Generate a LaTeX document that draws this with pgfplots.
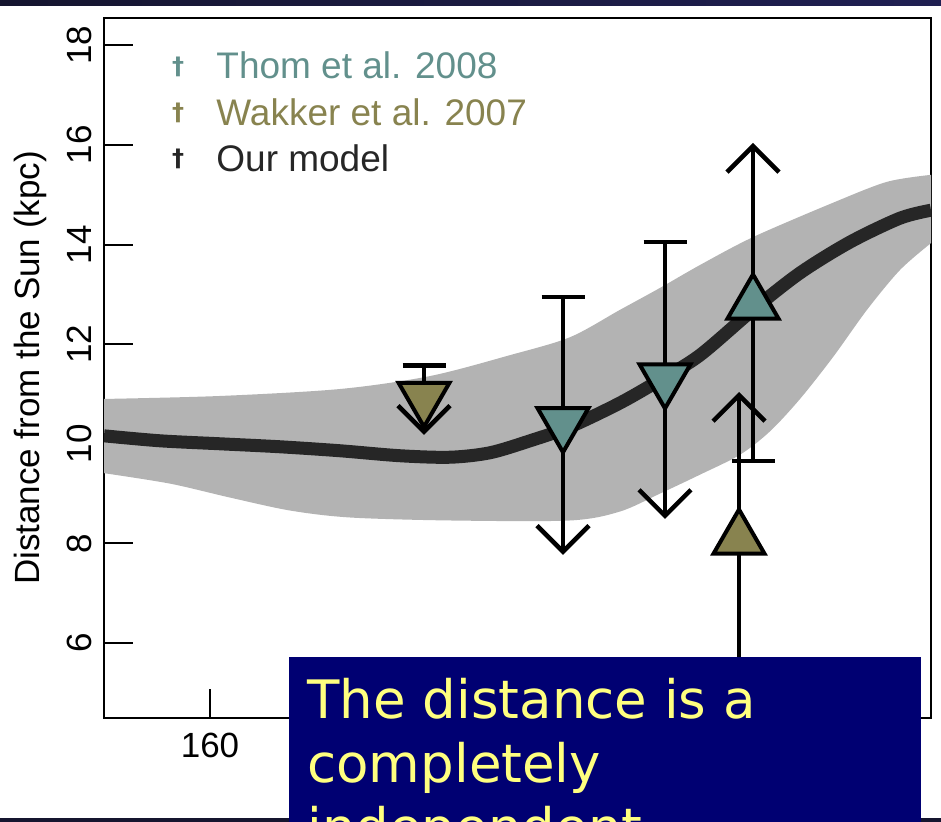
\documentclass[border=0pt]{standalone}
\usepackage{pgfplots}
\pgfplotsset{compat=1.18}
\usepgfplotslibrary{fillbetween}
\usetikzlibrary{arrows.meta}
\usepackage{fontspec}
\setmainfont{Liberation Sans}
\newfontfamily\dejavu{DejaVu Sans}

\definecolor{thomc}{HTML}{62908C}
\definecolor{wakc}{HTML}{88834F}
\definecolor{modelc}{HTML}{262626}
\definecolor{bandc}{HTML}{B3B3B3}
\definecolor{boxblue}{HTML}{000072}
\definecolor{boxyellow}{HTML}{FFFF7F}
\definecolor{slideL}{HTML}{15152F}
\definecolor{slideR}{HTML}{1F1F52}

% R-style filled triangles (pch 24 / 25), centred on the centroid
\pgfdeclareplotmark{triup}{%
  \pgfpathmoveto{\pgfqpointpolar{90}{14.7pt}}%
  \pgfpathlineto{\pgfqpointpolar{210}{14.7pt}}%
  \pgfpathlineto{\pgfqpointpolar{330}{14.7pt}}%
  \pgfpathclose\pgfusepathqfillstroke}
\pgfdeclareplotmark{tridown}{%
  \pgfpathmoveto{\pgfqpointpolar{270}{14.7pt}}%
  \pgfpathlineto{\pgfqpointpolar{30}{14.7pt}}%
  \pgfpathlineto{\pgfqpointpolar{150}{14.7pt}}%
  \pgfpathclose\pgfusepathqfillstroke}

\tikzset{
  ebar/.style={black, line width=2.25pt,
    arrows={Bar[width=21.5pt]-Straight Barb[length=13pt,width=26pt]}},
  eup/.style={black, line width=2.25pt,
    arrows={-Straight Barb[length=13pt,width=26pt]}},
}

\begin{document}
\begin{tikzpicture}
\shade[left color=slideL, right color=slideR] (-52pt,356pt) rectangle (418.5pt,359pt);
\fill[slideL] (-52pt,-52pt) rectangle (418.5pt,-50pt);

\begin{axis}[
    at={(0pt,0pt)}, anchor=south west,
    scale only axis, width=413.5pt, height=350pt,
    xmin=149.4, xmax=232.1, ymin=4.494, ymax=18.55,
    xtick={160}, ytick={6,8,...,18},
    tick pos=left, tick align=inside, major tick length=14.5pt,
    axis line style={line width=1pt},
    every tick/.append style={black, line width=1pt},
    tick label style={font=\fontsize{17.5}{20}\selectfont},
    /pgf/number format/assume math mode=true,
    xticklabel style={anchor=north, inner sep=0pt, yshift=-7.5pt},
    yticklabel style={xshift=-6pt, rotate=90, anchor=south, inner sep=0pt},
    ylabel={Distance from the Sun (kpc)},
    ylabel style={font=\fontsize{17.5}{20}\selectfont,
      at={(axis description cs:-0.0889,0.5)}, anchor=center},
]

% uncertainty band of the model
\addplot[name path=up, draw=none, smooth] coordinates {
  (149.4,10.90) (161,10.96) (173,11.10) (182,11.36) (190,11.78) (196,12.14)
  (201,12.69) (205,13.13) (209,13.59) (214.3,14.15) (222.3,14.84)
  (227.7,15.26) (232.1,15.40)
};
\addplot[name path=lo, draw=none, smooth] coordinates {
  (149.4,9.41) (156,9.20) (162,8.92) (168,8.66) (174,8.52) (184,8.46)
  (196,8.46) (201,8.64) (205,9.00) (209,9.38) (213,9.78) (216,10.25)
  (219,10.90) (222.3,11.74) (225.7,12.69) (229,13.49) (232.1,14.03)
};
\addplot[bandc] fill between[of=up and lo];

% error bars / limits
\addplot[ebar] coordinates {(181.4,11.62) (181.4,10.18)};
\addplot[ebar] coordinates {(195.3,12.99) (195.3,7.77)};
\addplot[ebar] coordinates {(205.5,14.10) (205.5,8.49)};
\addplot[ebar] coordinates {(214.3,9.61) (214.3,16.04)};
\addplot[eup]  coordinates {(212.9,5.0) (212.9,11.04)};

% Thom et al. 2008
\addplot[only marks, mark=tridown, mark options={fill=thomc, draw=black, line width=2pt}]
  coordinates {(195.3,10.42) (205.5,11.30)};
\addplot[only marks, mark=triup, mark options={fill=thomc, draw=black, line width=2pt}]
  coordinates {(214.3,12.81)};
% Wakker et al. 2007
\addplot[only marks, mark=tridown, mark options={fill=wakc, draw=black, line width=2pt}]
  coordinates {(181.4,10.93)};
\addplot[only marks, mark=triup, mark options={fill=wakc, draw=black, line width=2pt}]
  coordinates {(212.9,8.09)};

% our model
\addplot[modelc, line width=6.5pt, smooth] coordinates {
  (149.4,10.16) (155,10.06) (161,10.00) (167,9.94) (173,9.86) (179,9.76)
  (184,9.73) (188,9.82) (192,10.06) (196,10.34) (201,10.82) (205,11.28)
  (209,11.78) (214.3,12.69) (219,13.43) (224,14.05) (229,14.53) (232.1,14.69)
};
\end{axis}

% legend
\tikzset{dag/.style={inner sep=0pt, font=\dejavu\bfseries\fontsize{12}{14}\selectfont}}
\node[dag, text=thomc] at (37pt,325.75pt) {†};
\node[dag, text=wakc] at (37pt,302.5pt) {†};
\node[dag, text=modelc] at (37pt,279.5pt) {†};
\tikzset{leg/.style={anchor=base west, inner sep=0pt, font=\fontsize{18.5}{22}\selectfont}}
\node[leg, text=thomc] at (56pt,319.5pt) {Thom et al. 2008};
\node[leg, text=wakc] at (56pt,296pt) {Wakker et al. 2007};
\node[leg, text=modelc] at (56pt,273pt) {Our model};

% slide text box overlapping the plot
\fill[boxblue] (92.5pt,-52pt) rectangle (408.5pt,30.5pt);
\begin{scope}
\clip (92.5pt,-52pt) rectangle (408.5pt,30.5pt);
\tikzset{every node/.style={anchor=base west, inner sep=0pt, text=boxyellow,
  font=\dejavu\fontsize{26.5}{32}\selectfont}}
\node at (101.5pt,-0.5pt) {The distance is a};
\node at (101.5pt,-32.5pt) {completely};
\node at (101.5pt,-64.5pt) {independent};
\end{scope}

\pgfresetboundingbox
\useasboundingbox (-52pt,-52pt) rectangle (418.5pt,359pt);
\end{tikzpicture}
\end{document}
